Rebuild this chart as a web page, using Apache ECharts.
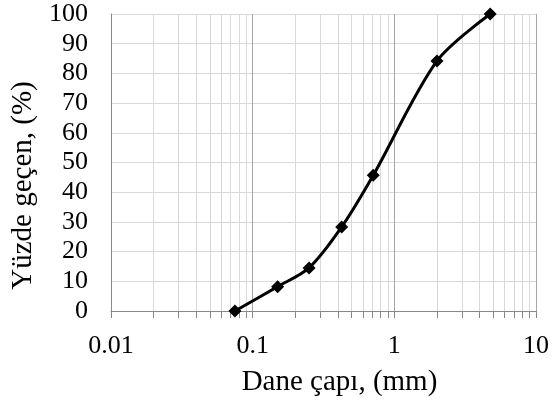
<!DOCTYPE html>
<html><head><meta charset="utf-8">
<script src="https://cdn.jsdelivr.net/npm/echarts@6/dist/echarts.min.js"></script>
<style>html,body{margin:0;padding:0;background:#fff}#c{width:552px;height:407px}</style>
</head><body><div id="c"></div>
<script>
const grainSize = [0.075, 0.15, 0.25, 0.425, 0.71, 2, 4.75];
const percentPassing = [0, 8.2, 14.5, 28.3, 45.7, 84.2, 100];
const xTickValues = [0.01,0.02,0.03,0.04,0.05,0.06,0.07,0.08,0.09,0.1,0.2,0.3,0.4,0.5,0.6,0.7,0.8,0.9,1,2,3,4,5,6,7,8,9,10];
const xLabelValues = [0.01, 0.1, 1, 10];
const xTitle = 'Dane çapı, (mm)';
const yTitle = 'Yüzde geçen, (%)';
const font = 'Liberation Serif, Times New Roman, serif';

const chart = echarts.init(document.getElementById('c'), null, {renderer: 'canvas'});
chart.setOption({
  animation: false,
  grid: {left: 111, right: 13, top: 14, bottom: 96, containLabel: false},
  xAxis: {
    type: 'log', min: 0.01, max: 10, logBase: 10,
    name: xTitle, nameLocation: 'middle', nameGap: 57,
    nameTextStyle: {fontFamily: font, fontSize: 29, color: '#000', padding: [0, 0, 0, 32]},
    axisLine: {show: true, lineStyle: {color: '#888', width: 1}},
    axisTick: {show: true, customValues: xTickValues, length: 7, inside: false, lineStyle: {color: '#888'}},
    axisLabel: {customValues: xLabelValues, fontFamily: font, fontSize: 26, color: '#000', margin: 22,
      formatter: v => String(v)},
    splitLine: {show: true, customValues: xTickValues,
      lineStyle: {color: ['#a6a6a6','#d9d9d9','#d9d9d9','#d9d9d9','#d9d9d9','#d9d9d9','#d9d9d9','#d9d9d9','#d9d9d9'], width: 1}}
  },
  yAxis: {
    type: 'value', min: 0, max: 100, interval: 10,
    name: yTitle, nameLocation: 'middle', nameGap: 72, nameRotate: 90,
    nameTextStyle: {fontFamily: font, fontSize: 29, color: '#000', padding: [0, 46, 0, 0]},
    axisLine: {show: true, lineStyle: {color: '#888', width: 1}},
    axisTick: {show: false},
    axisLabel: {fontFamily: font, fontSize: 26, color: '#000', margin: 23},
    splitLine: {show: true, lineStyle: {color: '#d9d9d9', width: 1}}
  },
  series: [{
    type: 'line',
    data: grainSize.map((x, i) => [x, percentPassing[i]]),
    smooth: 0.3,
    symbol: 'diamond', symbolSize: 13,
    lineStyle: {color: '#000', width: 3},
    itemStyle: {color: '#000'}
  }]
});
</script></body></html>
